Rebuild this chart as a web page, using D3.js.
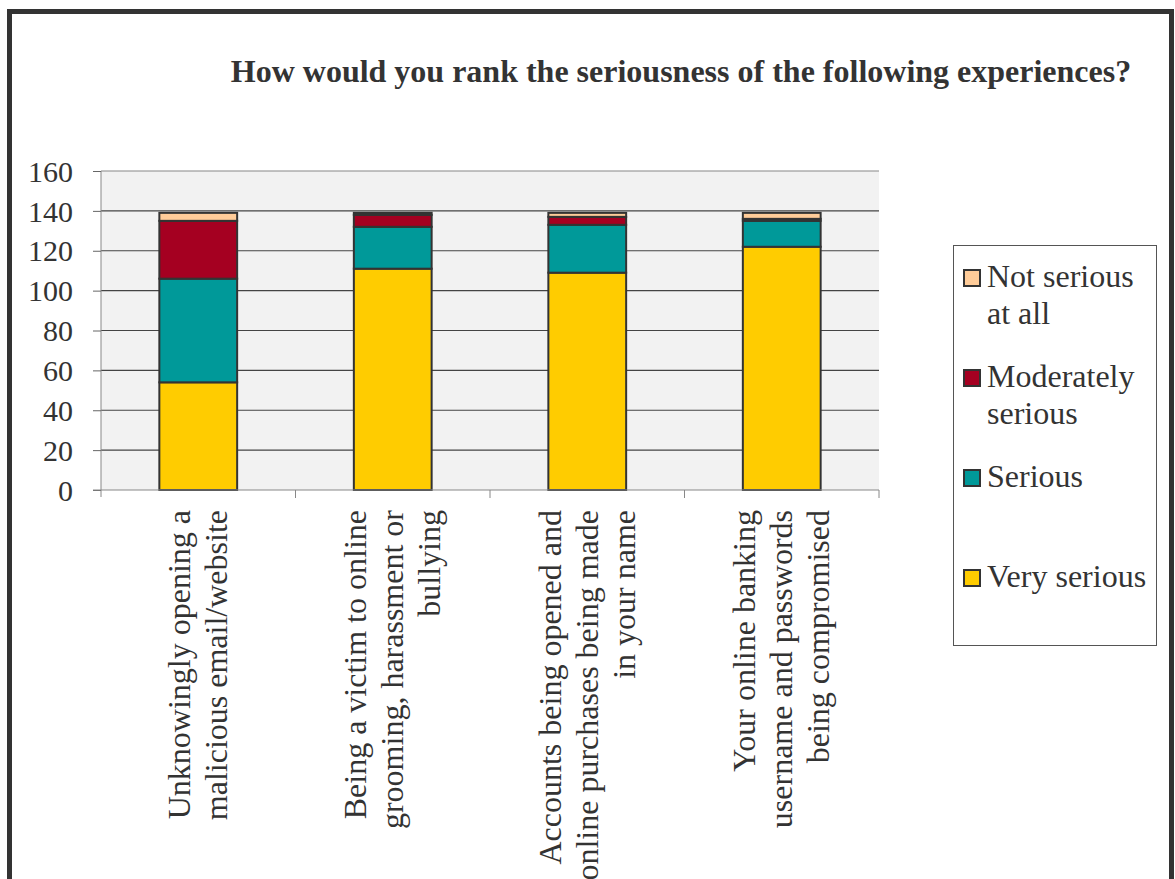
<!DOCTYPE html>
<html>
<head>
<meta charset="utf-8">
<script src="https://cdn.jsdelivr.net/npm/d3@7"></script>
<style>
  html, body { margin: 0; padding: 0; background: #fff; }
  svg { display: block; }
  text { font-family: "Liberation Serif", "Times New Roman", serif; fill: #333; }
</style>
</head>
<body>
<svg id="chart" width="1175" height="879"></svg>
<script>
// Survey responses: how serious each experience is rated
const categories = [
  ["Unknowingly opening a", "malicious email/website"],
  ["Being a victim to online", "grooming, harassment or", "bullying"],
  ["Accounts being opened and", "online purchases being made", "in your name"],
  ["Your online banking", "username and passwords", "being compromised"]
];
const seriesNames = ["Very serious", "Serious", "Moderately serious", "Not serious at all"];
const verySerious = [54, 111, 109, 122];
const serious = [52, 21, 24, 13];
const moderatelySerious = [29, 6, 4, 1];
const notSerious = [4, 1, 2, 3];
const yTicks = [0, 20, 40, 60, 80, 100, 120, 140, 160];
const colors = ["#ffcc00", "#009999", "#a50021", "#ffcc99"];
const legendLines = [["Not serious", "at all"], ["Moderately", "serious"], ["Serious"], ["Very serious"]];

const svg = d3.select("#chart");

// outer frame
svg.append("rect")
  .attr("x", 9.5).attr("y", 11.5)
  .attr("width", 1162).attr("height", 900)
  .attr("fill", "none").attr("stroke", "#333").attr("stroke-width", 5);

// title
svg.append("text")
  .attr("x", 681).attr("y", 82)
  .attr("text-anchor", "middle")
  .attr("font-weight", "bold")
  .attr("font-size", 32)
  .text("How would you rank the seriousness of the following experiences?");

const plot = { left: 101, right: 879, top: 171, bottom: 490 };

const x = d3.scaleBand()
  .domain(d3.range(categories.length))
  .range([plot.left, plot.right])
  .paddingInner(0.6).paddingOuter(0.3);

const y = d3.scaleLinear().domain([0, 160]).range([plot.bottom, plot.top]);

// plot background
svg.append("rect")
  .attr("x", plot.left).attr("y", plot.top)
  .attr("width", plot.right - plot.left).attr("height", plot.bottom - plot.top)
  .attr("fill", "#f2f2f2");

// gridlines
svg.append("g")
  .selectAll("line")
  .data(yTicks.filter(d => d > 0))
  .join("line")
  .attr("x1", plot.left).attr("x2", plot.right)
  .attr("y1", d => y(d)).attr("y2", d => y(d))
  .attr("stroke", d => d === 160 ? "#888" : "#444")
  .attr("stroke-width", 1.2);

// y axis
const yAxis = svg.append("g")
  .attr("transform", `translate(${plot.left},0)`)
  .call(d3.axisLeft(y).tickValues(yTicks).tickSize(8).tickPadding(20).tickSizeOuter(0));
yAxis.select(".domain").attr("stroke", "#888").attr("d", `M0,${plot.top}V${plot.bottom + 7}`);
yAxis.selectAll(".tick line").attr("stroke", "#666");
yAxis.selectAll(".tick text")
  .attr("font-size", 30)
  .attr("font-family", "Liberation Serif, Times New Roman, serif")
  .attr("fill", "#333")
  .attr("dy", "0.34em")
  .attr("x", -28);

// stacked bars
const rows = categories.map((c, i) => ({
  idx: i,
  "Very serious": verySerious[i],
  "Serious": serious[i],
  "Moderately serious": moderatelySerious[i],
  "Not serious at all": notSerious[i]
}));
const stacked = d3.stack().keys(seriesNames)(rows);

svg.append("g")
  .selectAll("g")
  .data(stacked)
  .join("g")
  .attr("fill", (d, i) => colors[i])
  .selectAll("rect")
  .data(d => d)
  .join("rect")
  .attr("x", d => x(d.data.idx))
  .attr("width", x.bandwidth())
  .attr("y", d => y(d[1]))
  .attr("height", d => y(d[0]) - y(d[1]))
  .attr("stroke", "#333")
  .attr("stroke-width", 2);

// x axis line with category separators
const xAxis = svg.append("g");
xAxis.append("line")
  .attr("x1", plot.left - 8).attr("x2", plot.right)
  .attr("y1", plot.bottom).attr("y2", plot.bottom)
  .attr("stroke", "#888");
xAxis.selectAll("line.sep")
  .data(d3.range(1, categories.length + 1))
  .join("line")
  .attr("class", "sep")
  .attr("x1", i => plot.left + i * (plot.right - plot.left) / categories.length)
  .attr("x2", i => plot.left + i * (plot.right - plot.left) / categories.length)
  .attr("y1", plot.bottom).attr("y2", plot.bottom + 8)
  .attr("stroke", "#888");

// rotated category labels
const lineGap = 37;
categories.forEach((lines, i) => {
  const cx = x(i) + x.bandwidth() / 2;
  const g = svg.append("g").attr("transform", `translate(${cx},510) rotate(-90)`);
  lines.forEach((t, j) => {
    g.append("text")
      .attr("x", 0)
      .attr("y", (j - (lines.length - 1) / 2) * lineGap)
      .attr("dy", "0.33em")
      .attr("text-anchor", "end")
      .attr("font-size", 32)
      .text(t);
  });
});

// legend
const legend = svg.append("g");
legend.append("rect")
  .attr("x", 953.5).attr("y", 245.5)
  .attr("width", 203).attr("height", 400)
  .attr("fill", "#fff").attr("stroke", "#555").attr("stroke-width", 1);
const legendBaselines = [287, 387, 487, 587];
const legendColors = [colors[3], colors[2], colors[1], colors[0]];
legendLines.forEach((lines, i) => {
  legend.append("rect")
    .attr("x", 964).attr("y", legendBaselines[i] - 17)
    .attr("width", 16).attr("height", 16)
    .attr("fill", legendColors[i]).attr("stroke", "#333").attr("stroke-width", 2);
  lines.forEach((t, j) => {
    legend.append("text")
      .attr("x", 987).attr("y", legendBaselines[i] + j * 37)
      .attr("font-size", 32)
      .text(t);
  });
});
</script>
</body>
</html>
